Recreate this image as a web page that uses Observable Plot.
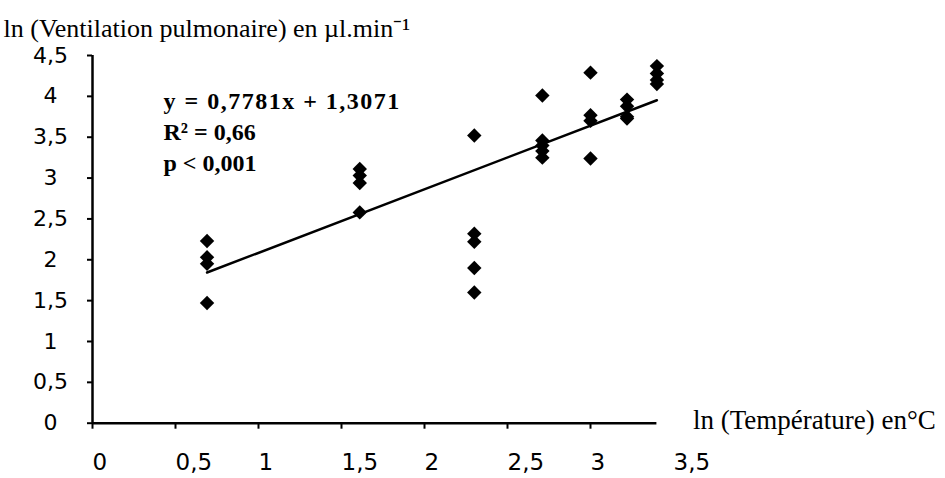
<!DOCTYPE html>
<html>
<head>
<meta charset="utf-8">
<script src="https://cdn.jsdelivr.net/npm/d3@7"></script>
<script src="https://cdn.jsdelivr.net/npm/@observablehq/plot@0.6"></script>
<style>
  html, body { margin: 0; padding: 0; background: #fff; }
</style>
</head>
<body>
<div id="chart"></div>
<script>
// ln(Température) for each measurement
const lnTemp = [
  0.69, 0.69, 0.69, 0.69,
  1.61, 1.61, 1.61, 1.61,
  2.30, 2.30, 2.30, 2.30, 2.30,
  2.71, 2.71, 2.71, 2.71, 2.71,
  3.00, 3.00, 3.00, 3.00,
  3.22, 3.22, 3.22, 3.22,
  3.40, 3.40, 3.40, 3.40
];
// ln(Ventilation pulmonaire)
const lnVent = [
  2.23, 2.03, 1.95, 1.47,
  3.11, 3.03, 2.94, 2.58,
  3.52, 2.32, 2.22, 1.90, 1.60,
  4.01, 3.46, 3.40, 3.33, 3.25,
  4.29, 3.77, 3.70, 3.24,
  3.96, 3.88, 3.75, 3.73,
  4.37, 4.28, 4.20, 4.15
];
// regression
const slope = 0.7781;
const intercept = 1.3071;
const fitRange = [0.69, 3.40];
const annotation = ["y = 0,7781x + 1,3071", "R² = 0,66", "p < 0,001"];

const xTicks = [0, 0.5, 1, 1.5, 2, 2.5, 3];
const xLabels = [0, 0.5, 1, 1.5, 2, 2.5, 3, 3.5];
const yTicks = [0, 0.5, 1, 1.5, 2, 2.5, 3, 3.5, 4, 4.5];
const xAxisEnd = 3.4;
const xTitle = "ln (Température) en°C";
const yTitle = "ln (Ventilation pulmonaire) en µl.min⁻¹";

const fmt = d => String(d).replace(".", ",");
const points = lnTemp.map((x, i) => ({x, y: lnVent[i]}));
const fit = fitRange.map(x => ({x, y: slope * x + intercept}));

const annStyle = {
  frameAnchor: "top-left", dx: 71, textAnchor: "start", lineAnchor: "middle",
  fontSize: 24, fontWeight: "bold", fontFamily: "Liberation Serif", fill: "#000"
};

const chart = Plot.plot({
  width: 945,
  height: 478,
  marginLeft: 92,
  marginRight: 272,
  marginTop: 55,
  marginBottom: 55.3,
  style: {background: "#fff", color: "#000", overflow: "visible"},
  x: {domain: [0, 3.5], axis: null},
  y: {domain: [0, 4.5], axis: null},
  marks: [
    // y axis ticks + labels
    Plot.axisY(yTicks, {
      label: null, tickSize: 5, tickPadding: 37, textAnchor: "middle",
      tickFormat: fmt, fontSize: 22, fontFamily: "DejaVu Sans",
      strokeWidth: 2, fill: "#000", stroke: "#000"
    }),
    // x axis ticks
    Plot.axisX(xTicks, {
      label: null, tickSize: 6, tickFormat: () => "", strokeWidth: 2, stroke: "#000"
    }),
    // x tick labels (left-aligned on tick)
    Plot.text(xLabels, {
      x: d => d, y: 0, dy: 39, textAnchor: "start", text: fmt,
      fontSize: 23, fontFamily: "DejaVu Sans", fill: "#000"
    }),
    // axis lines
    Plot.ruleX([0], {y1: 0, y2: 4.5, stroke: "#000", strokeWidth: 2.5}),
    Plot.ruleY([0], {x1: 0, x2: xAxisEnd, stroke: "#000", strokeWidth: 2.5}),
    // regression line
    Plot.line(fit, {x: "x", y: "y", stroke: "#000", strokeWidth: 2.5}),
    // data points
    Plot.dot(points, {x: "x", y: "y", symbol: "diamond2", r: 6.5, fill: "#000", stroke: "none"}),
    // annotation
    Plot.text([annotation[0]], {...annStyle, dy: 46}),
    Plot.text([annotation[1]], {...annStyle, dy: 77}),
    Plot.text([annotation[2]], {...annStyle, dy: 108}),
    // axis titles
    Plot.text([xTitle], {
      x: xAxisEnd, y: 0, dx: 36, dy: -3, textAnchor: "start",
      fontSize: 27, fontFamily: "Liberation Serif", fill: "#000"
    }),
    Plot.text([yTitle], {
      frameAnchor: "top-left", dx: -89, dy: -37, textAnchor: "start",
      fontSize: 26, fontFamily: "Liberation Serif", fill: "#000"
    })
  ]
});
d3.select(chart).selectAll("text")
  .filter(function() { return this.textContent === annotation[0]; })
  .style("letter-spacing", "1.5px");
document.getElementById("chart").appendChild(chart);
</script>
</body>
</html>
